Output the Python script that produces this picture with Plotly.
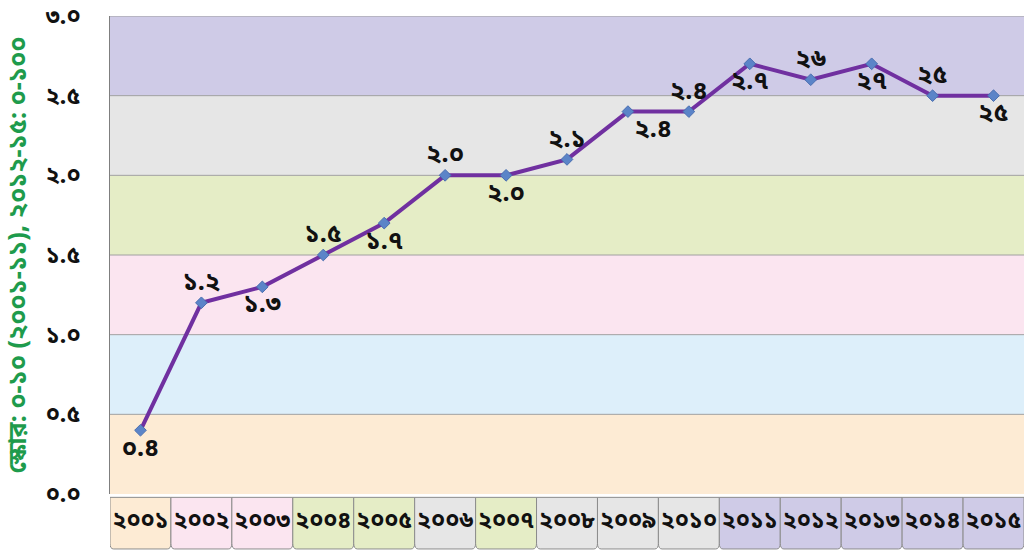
import plotly.graph_objects as go

years = ["২০০১", "২০০২", "২০০৩", "২০০৪", "২০০৫", "২০০৬", "২০০৭", "২০০৮",
         "২০০৯", "২০১০", "২০১১", "২০১২", "২০১৩", "২০১৪", "২০১৫"]
values = [0.4, 1.2, 1.3, 1.5, 1.7, 2.0, 2.0, 2.1, 2.4, 2.4, 2.7, 2.6, 2.7, 2.5, 2.5]
value_labels = ["০.৪", "১.২", "১.৩", "১.৫", "১.৭", "২.০", "২.০", "২.১",
                "২.৪", "২.৪", "২.৭", "২৬", "২৭", "২৫", "২৫"]
label_pos = ["bottom center", "top center", "bottom center", "top center", "bottom center",
             "top center", "bottom center", "top center", "bottom right", "top center",
             "bottom center", "top center", "bottom center", "top center", "bottom center"]
y_ticks = [0.0, 0.5, 1.0, 1.5, 2.0, 2.5, 3.0]
y_ticktext = ["০.০", "০.৫", "১.০", "১.৫", "২.০", "২.৫", "৩.০"]
band_colors = ["#FDEBD4", "#DDEFFA", "#FBE5F0", "#E5EDC6", "#E6E6E6", "#CFCBE7"]
year_box_colors = ["#FDEBD4", "#FBE5F0", "#FBE5F0", "#E5EDC6", "#E5EDC6", "#E6E6E6",
                   "#E5EDC6", "#E6E6E6", "#E6E6E6", "#E6E6E6", "#CFCBE7", "#CFCBE7",
                   "#CFCBE7", "#CFCBE7", "#CFCBE7"]
y_title = "স্কোর: ০-১০ (২০০১-১১), ২০১২-১৫: ০-১০০"

FONT = "Noto Sans Bengali, Lohit Bengali, Noto Sans, sans-serif"

x_idx = list(range(len(years)))

fig = go.Figure()
fig.add_trace(go.Scatter(
    x=x_idx, y=values, mode="lines+markers+text",
    line=dict(color="#7030A0", width=4),
    marker=dict(symbol="diamond", size=9, color="#5B84C8",
                line=dict(color="#4A6FB0", width=1)),
    text=value_labels, textposition=label_pos,
    textfont=dict(family=FONT, size=25, color="#111111", weight="bold"),
    cliponaxis=False, showlegend=False, hoverinfo="skip"))

shapes = []
for i, c in enumerate(band_colors):
    shapes.append(dict(type="rect", xref="paper", yref="y", x0=0, x1=1,
                       y0=y_ticks[i], y1=y_ticks[i + 1], fillcolor=c,
                       line=dict(width=0), layer="below"))
for t in y_ticks[1:]:
    shapes.append(dict(type="line", xref="paper", yref="y", x0=0, x1=1, y0=t, y1=t,
                       line=dict(color="#A0A0A0", width=1), layer="below"))

# rounded year boxes below the plot
yb0, yb1, r = -0.007, -0.115, 0.012
for i, c in enumerate(year_box_colors):
    a, b = i - 0.5, i + 0.5
    rx = 0.06
    path = (f"M {a},{yb0} L {a},{yb1 + r} Q {a},{yb1} {a + rx},{yb1} "
            f"L {b - rx},{yb1} Q {b},{yb1} {b},{yb1 + r} L {b},{yb0} Z")
    shapes.append(dict(type="path", xref="x", yref="paper", path=path, layer="below",
                       fillcolor=c, line=dict(color="#8C8C8C", width=1)))

fig.update_layout(
    width=1026, height=554,
    margin=dict(l=110, r=2, t=16, b=60),
    paper_bgcolor="white", plot_bgcolor="white",
    shapes=shapes,
    xaxis=dict(range=[-0.5, len(years) - 0.5], tickvals=x_idx, ticktext=years,
               showgrid=False, zeroline=False, ticks="", ticklabelstandoff=10,
               tickangle=0, automargin=False,
               tickfont=dict(family=FONT, size=23, color="#111111", weight="bold"),
               showline=False),
    yaxis=dict(range=[0, 3.0], tickvals=y_ticks, ticktext=y_ticktext,
               showgrid=False, zeroline=False, ticks="", ticklabelstandoff=24,
               ticklabeloverflow="allow", automargin=False,
               tickfont=dict(family=FONT, size=23, color="#111111", weight="bold"),
               showline=True, linecolor="#7F7F7F", linewidth=1,
               title=dict(text=y_title, standoff=12,
                          font=dict(family=FONT, size=25, color="#1E9B4C", weight="bold"))),
)

fig.write_html("out.html")
